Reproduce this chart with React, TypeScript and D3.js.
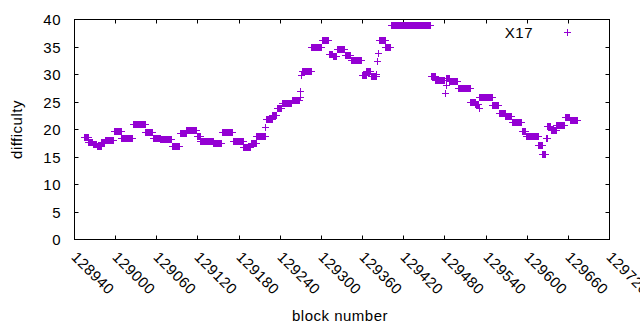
import React from 'react';
import * as d3 from 'd3';

// Sizes of the picture and of the plot box
const W = 640;
const H = 330;
const plot = { left: 74.5, right: 609.5, top: 19.5, bottom: 239.5 };

const runStart = [
  128955, 128961, 128967, 128973, 128980, 128985, 128998, 129009, 129026, 129044,
  129055, 129066, 129083, 129094, 129104, 129119, 129124, 129143, 129156, 129172,
  129187, 129198, 129206, 129219, 129220, 129229, 129236, 129243, 129258, 129269,
  129270, 129271, 129272, 129286, 129301, 129312, 129317, 129323, 129335, 129344,
  129360, 129366, 129373, 129381, 129382, 129383, 129384, 129394, 129402, 129460,
  129467, 129481, 129482, 129483, 129487, 129500, 129518, 129525, 129530, 129531,
  129550, 129559, 129569, 129578, 129593, 129599, 129617, 129623, 129628, 129630,
  129635, 129643, 129656, 129663,
];
const runEnd = [
  128960, 128966, 128972, 128979, 128984, 128997, 129008, 129025, 129043, 129054,
  129065, 129082, 129093, 129103, 129118, 129123, 129142, 129155, 129171, 129186,
  129197, 129205, 129218, 129219, 129228, 129235, 129242, 129257, 129268, 129269,
  129270, 129271, 129285, 129300, 129311, 129316, 129322, 129334, 129343, 129359,
  129365, 129372, 129380, 129381, 129382, 129383, 129393, 129401, 129459, 129466,
  129480, 129481, 129482, 129486, 129499, 129517, 129524, 129529, 129530, 129549,
  129558, 129568, 129577, 129592, 129598, 129616, 129622, 129627, 129629, 129634,
  129642, 129655, 129662, 129673,
];
const runDifficulty = [
  18.5, 17.7, 17.2, 16.85, 17.6, 18.0, 19.6, 18.3, 20.85, 19.4,
  18.3, 18.2, 16.85, 19.2, 19.9, 18.8, 17.75, 17.4, 19.4, 17.9,
  16.7, 17.5, 18.8, 20.4, 21.9, 22.5, 23.9, 24.8, 25.2, 25.9,
  27.0, 29.9, 30.5, 35.0, 36.1, 33.7, 33.2, 34.5, 33.5, 32.6,
  29.9, 30.5, 29.6, 30.0, 32.4, 33.8, 36.2, 35.0, 39.0, 29.6,
  29.0, 26.5, 28.0, 29.2, 28.7, 27.4, 24.85, 24.5, 23.9, 25.9,
  24.4, 23.0, 22.4, 21.2, 19.7, 18.7, 17.0, 15.5, 18.3, 20.5,
  19.9, 20.7, 22.2, 21.6,
];

const xTicks = [128940, 129000, 129060, 129120, 129180, 129240, 129300, 129360, 129420, 129480, 129540, 129600, 129660, 129720];
const yTicks = [0, 5, 10, 15, 20, 25, 30, 35, 40];

const purple = '#9400d3';
const font = '"Liberation Sans", Arial, sans-serif';

export default function App() {
  const x = d3.scaleLinear().domain([128940, 129720]).range([plot.left, plot.right]);
  const y = d3.scaleLinear().domain([0, 40]).range([plot.bottom, plot.top]);

  // one point per block
  const points: { block: number; diff: number }[] = [];
  runStart.forEach((s, i) => {
    for (let b = s; b <= runEnd[i]; b++) points.push({ block: b, diff: runDifficulty[i] });
  });

  const plus = (cx: number, cy: number) => {
    const px = Math.round(cx - 0.5) + 0.5;
    const py = Math.round(cy - 0.5) + 0.5;
    return `M${px - 3.5},${py}h7M${px},${py - 3.5}v7`;
  };

  const tick = 4;

  return (
    <svg width={W} height={H} style={{ position: 'fixed', left: 0, top: 0, background: '#fff' }}
      fontFamily={font} fontSize={15} letterSpacing={0.5}>
      <rect x={0} y={0} width={W} height={H} fill="#fff" />

      {/* y ticks, mirrored on the right */}
      {yTicks.map((t) => {
        const yy = Math.round(y(t) - 0.5) + 0.5;
        return (
          <g key={'y' + t}>
            {t > 0 && t < 40 && (
              <path d={`M${plot.left},${yy}h${tick}M${plot.right},${yy}h${-tick}`} stroke="#000" strokeWidth={1} />
            )}
            <text x={61} y={yy} textAnchor="end" dominantBaseline="central" fill="#000">{t}</text>
          </g>
        );
      })}

      {/* x ticks, mirrored on the top */}
      {xTicks.map((t) => {
        const xx = Math.round(x(t) - 0.5) + 0.5;
        return (
          <g key={'x' + t}>
            {t > 128940 && t < 129720 && (
              <path d={`M${xx},${plot.bottom}v${-tick}M${xx},${plot.top}v${tick}`} stroke="#000" strokeWidth={1} />
            )}
            <text x={xx} y={254} transform={`rotate(45 ${xx} 254)`} dominantBaseline="central" fill="#000">{t}</text>
          </g>
        );
      })}

      <rect x={plot.left} y={plot.top} width={plot.right - plot.left} height={plot.bottom - plot.top}
        fill="none" stroke="#000" strokeWidth={1} />

      {/* data */}
      <path d={points.map((p) => plus(x(p.block), y(p.diff))).join('')} stroke={purple} strokeWidth={1} fill="none" />

      {/* legend */}
      <text x={533} y={32} textAnchor="end" dominantBaseline="central" fill="#000">X17</text>
      <path d={plus(567, 32)} stroke={purple} strokeWidth={1} fill="none" />

      {/* axis titles */}
      <text x={(plot.left + plot.right) / 2 - 2} y={321} textAnchor="middle" fill="#000">block number</text>
      <text transform={`translate(22,${(plot.top + plot.bottom) / 2}) rotate(-90)`} textAnchor="middle" fill="#000">difficulty</text>
    </svg>
  );
}
